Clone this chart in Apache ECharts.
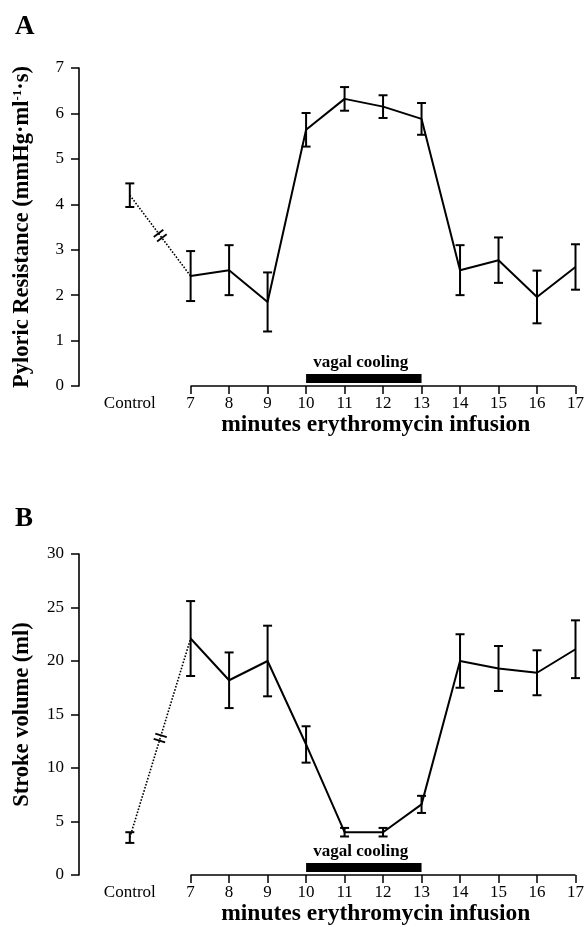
<!DOCTYPE html>
<html><head><meta charset="utf-8">
<script src="https://cdn.jsdelivr.net/npm/echarts@6/dist/echarts.min.js"></script>
<style>html,body{margin:0;padding:0;background:#fff}#c{width:587px;height:927px}</style>
</head><body><div id="c"></div>
<script>
// ---- data ----
const minutes = [7, 8, 9, 10, 11, 12, 13, 14, 15, 16, 17];
const controlX = 5.42;
const resistanceControl = 4.2, resistanceControlErr = 0.26;
const resistance = [2.42, 2.55, 1.85, 5.64, 6.32, 6.15, 5.88, 2.55, 2.77, 1.96, 2.62];
const resistanceErr = [0.55, 0.55, 0.65, 0.37, 0.26, 0.25, 0.35, 0.55, 0.5, 0.58, 0.5];
const strokeControl = 3.5, strokeControlErr = 0.5;
const stroke = [22.1, 18.2, 20.0, 12.2, 4.0, 4.0, 6.6, 20.0, 19.3, 18.9, 21.1];
const strokeErr = [3.5, 2.6, 3.3, 1.7, 0.4, 0.4, 0.8, 2.5, 2.1, 2.1, 2.7];
const coolingStart = 10, coolingEnd = 13;
const xTicks = [7, 8, 9, 10, 11, 12, 13, 14, 15, 16, 17];
const xMin = 4.1, xMax = 17;

const FONT = '"Liberation Serif", "DejaVu Serif", serif';
const chart = echarts.init(document.getElementById('c'));

function errData(ctrlX, ctrlV, ctrlE, vals, errs) {
  const d = [[ctrlX, ctrlV - ctrlE, ctrlV + ctrlE]];
  minutes.forEach((m, i) => d.push([m, vals[i] - errs[i], vals[i] + errs[i]]));
  return d;
}
function errRender(params, api) {
  const x = api.value(0);
  const p1 = api.coord([x, api.value(1)]);
  const p2 = api.coord([x, api.value(2)]);
  const w = 4.5;
  const st = {stroke: '#000', lineWidth: 2};
  return {type: 'group', children: [
    {type: 'line', shape: {x1: p1[0], y1: p1[1], x2: p2[0], y2: p2[1]}, style: st},
    {type: 'line', shape: {x1: p1[0] - w, y1: p1[1], x2: p1[0] + w, y2: p1[1]}, style: st},
    {type: 'line', shape: {x1: p2[0] - w, y1: p2[1], x2: p2[0] + w, y2: p2[1]}, style: st}
  ]};
}
function breakRender(params, api) {
  const a = api.coord([api.value(0), api.value(1)]);
  const b = api.coord([api.value(2), api.value(3)]);
  const mx = (a[0] + b[0]) / 2, my = (a[1] + b[1]) / 2;
  let dx = b[0] - a[0], dy = b[1] - a[1];
  const L = Math.hypot(dx, dy); dx /= L; dy /= L;
  const px = -dy, py = dx;
  const ch = [];
  [-2.8, 2.8].forEach(o => {
    const cx = mx + dx * o, cy = my + dy * o;
    ch.push({type: 'line', shape: {x1: cx - px * 6, y1: cy - py * 6, x2: cx + px * 6, y2: cy + py * 6},
      style: {stroke: '#000', lineWidth: 1.8}});
  });
  return {type: 'group', children: ch};
}
function coolRender(params, api) {
  const a = api.coord([api.value(0), 0]);
  const b = api.coord([api.value(1), 0]);
  return {type: 'group', children: [
    {type: 'rect', shape: {x: a[0], y: a[1] - 12, width: b[0] - a[0], height: 9}, style: {fill: '#000'}},
    {type: 'text', style: {text: 'vagal cooling', x: (a[0] + b[0]) / 2 - 3, y: a[1] - 15,
      align: 'center', verticalAlign: 'bottom', font: 'bold 17px ' + FONT, fill: '#000'}}
  ]};
}

function xAxisCfg(gi) {
  return {
    gridIndex: gi, type: 'value', min: xMin, max: xMax,
    axisLine: {show: false}, splitLine: {show: false},
    axisTick: {show: true, customValues: xTicks, length: 8, lineStyle: {color: '#000', width: 1.5}},
    axisLabel: {show: true, customValues: [controlX].concat(xTicks), margin: 9,
      formatter: v => (Math.abs(v - controlX) < 1e-6 ? 'Control' : String(Math.round(v))),
      fontFamily: FONT, fontSize: 17, color: '#000'},
    name: 'minutes erythromycin infusion', nameLocation: 'middle', nameGap: 26,
    nameTextStyle: {fontFamily: FONT, fontWeight: 'bold', fontSize: 23.5, color: '#000', padding: [0, 0, 0, 97]}
  };
}
function yAxisCfg(gi, max, interval, name, rich) {
  return {
    gridIndex: gi, type: 'value', min: 0, max: max, interval: interval,
    axisLine: {show: true, lineStyle: {color: '#000', width: 1.6}},
    axisTick: {show: true, length: 8, lineStyle: {color: '#000', width: 1.5}},
    axisLabel: {fontFamily: FONT, fontSize: 17, color: '#000', margin: 15},
    splitLine: {show: false},
    name: name, nameLocation: 'middle', nameGap: 45,
    nameTextStyle: {fontFamily: FONT, fontWeight: 'bold', fontSize: 22.5, color: '#000', rich: rich}
  };
}
function seriesFor(gi, ctrlV, ctrlE, vals, errs) {
  return [
    {type: 'line', xAxisIndex: gi, yAxisIndex: gi, data: minutes.map((m, i) => [m, vals[i]]),
      showSymbol: false, symbol: 'none', lineStyle: {color: '#000', width: 2}, silent: true,
      markLine: {silent: true, symbol: ['none', 'none'], label: {show: false},
        lineStyle: {color: '#000', width: 1.6, type: 'solid'},
        data: [[{coord: [xTicks[0], 0]}, {coord: [xTicks[xTicks.length - 1], 0]}]]}},
    {type: 'line', xAxisIndex: gi, yAxisIndex: gi, data: [[controlX, ctrlV], [minutes[0], vals[0]]],
      showSymbol: false, symbol: 'none', lineStyle: {color: '#000', width: 1.6, type: 'dotted'}, silent: true},
    {type: 'custom', xAxisIndex: gi, yAxisIndex: gi, renderItem: errRender,
      encode: {x: 0, y: [1, 2]}, data: errData(controlX, ctrlV, ctrlE, vals, errs), silent: true},
    {type: 'custom', xAxisIndex: gi, yAxisIndex: gi, renderItem: breakRender,
      encode: {x: [0, 2], y: [1, 3]}, data: [[controlX, ctrlV, minutes[0], vals[0]]], silent: true},
    {type: 'custom', xAxisIndex: gi, yAxisIndex: gi, renderItem: coolRender,
      encode: {x: [0, 1]}, data: [[coolingStart, coolingEnd]], silent: true, clip: false}
  ];
}

const option = {
  animation: false,
  backgroundColor: '#fff',
  title: [
    {text: 'A', left: 10, top: 9, textStyle: {fontFamily: FONT, fontWeight: 'bold', fontSize: 27, color: '#000'}},
    {text: 'B', left: 10, top: 501, textStyle: {fontFamily: FONT, fontWeight: 'bold', fontSize: 27, color: '#000'}}
  ],
  grid: [
    {left: 79, right: 7, top: 68, height: 318},
    {left: 79, right: 7, top: 554, height: 321}
  ],
  xAxis: [xAxisCfg(0), xAxisCfg(1)],
  yAxis: [
    yAxisCfg(0, 7, 1, 'Pyloric Resistance (mmHg·ml{sup|-1}·s)',
      {sup: {fontFamily: FONT, fontWeight: 'bold', fontSize: 13, verticalAlign: 'top', padding: [0, 0, 9, 0]}}),
    yAxisCfg(1, 30, 5, 'Stroke volume (ml)', {})
  ],
  series: seriesFor(0, resistanceControl, resistanceControlErr, resistance, resistanceErr)
    .concat(seriesFor(1, strokeControl, strokeControlErr, stroke, strokeErr))
};
chart.setOption(option);
</script></body></html>
